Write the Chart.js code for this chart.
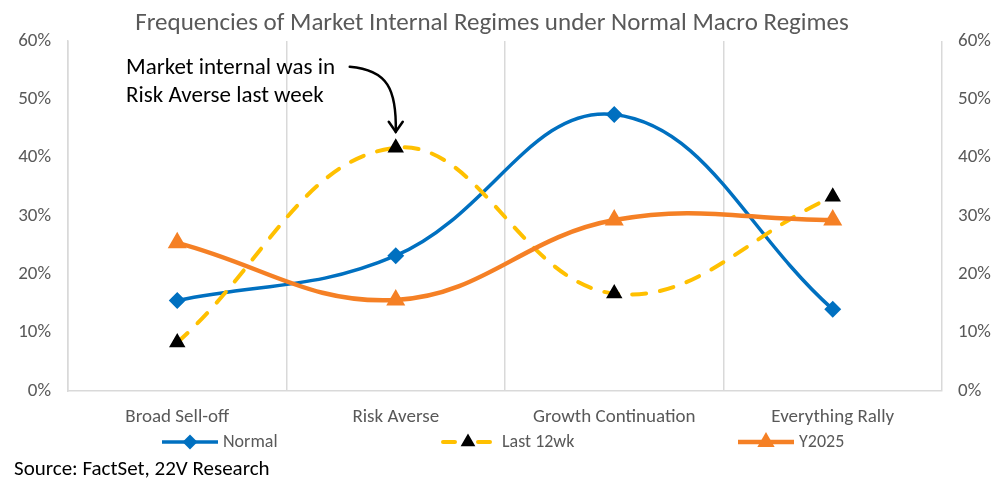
<!DOCTYPE html>
<html lang="en">
<head>
  <meta charset="UTF-8">
  <title>Frequencies of Market Internal Regimes</title>
  <style>
    body {
      margin: 0;
      background: #fff;
    }

    #chartContainer {
      width: 1002px;
      height: 482px;
    }
  </style>
</head>
<body>
  <div id="chartContainer">
    <canvas id="regimeChart"></canvas>
  </div>

  <script src="https://cdn.jsdelivr.net/npm/chart.js"></script>
  <script>
    const categories = ['Broad Sell-off', 'Risk Averse', 'Growth Continuation', 'Everything Rally'];
    const normalValues = [15.5, 23.2, 47.4, 14.0];
    const last12wkValues = [8.3, 41.7, 16.7, 33.3];
    const y2025Values = [25.4, 15.6, 29.3, 29.3];
    const yTicks = [0, 10, 20, 30, 40, 50, 60];

    const FONT = "Carlito, Calibri, 'Open Sans', sans-serif";
    const GREY = '#595959';

    // title, legend, source line and the call-out arrow
    const extras = {
      id: 'extras',
      afterDraw(chart) {
        const ctx = chart.ctx;
        ctx.save();

        ctx.fillStyle = GREY;
        ctx.font = '25px ' + FONT;
        ctx.textAlign = 'center';
        ctx.textBaseline = 'middle';
        ctx.fillText('Frequencies of Market Internal Regimes under Normal Macro Regimes', 492, 24);

        // legend
        const ds = chart.data.datasets;
        const items = [
          { x: 162, ds: ds[0] },
          { x: 440, ds: ds[1] },
          { x: 738, ds: ds[2] }
        ];
        const ly = 442;
        items.forEach(it => {
          ctx.strokeStyle = it.ds.borderColor;
          ctx.lineWidth = it.ds.borderWidth;
          ctx.lineCap = it.ds.borderDash ? 'round' : 'butt';
          ctx.beginPath();
          if (it.ds.borderDash) {
            ctx.moveTo(it.x + 3, ly); ctx.lineTo(it.x + 15, ly);
            ctx.moveTo(it.x + 38, ly); ctx.lineTo(it.x + 50, ly);
          } else {
            ctx.moveTo(it.x, ly); ctx.lineTo(it.x + 56, ly);
          }
          ctx.stroke();
          ctx.fillStyle = it.ds.pointBackgroundColor;
          ctx.strokeStyle = it.ds.pointBorderColor;
          Chart.helpers.drawPoint(ctx, {
            pointStyle: it.ds.pointStyle,
            radius: it.ds.pointRadius - 1,
            borderWidth: 1
          }, it.x + 28, ly);
          ctx.fillStyle = GREY;
          ctx.font = '18px ' + FONT;
          ctx.textAlign = 'left';
          ctx.fillText(it.ds.label, it.x + (it.ds.borderDash ? 62 : 61), ly);
        });

        ctx.fillStyle = '#000';
        ctx.font = '21px ' + FONT;
        ctx.textAlign = 'left';
        ctx.fillText('Source: FactSet, 22V Research', 14, 470);

        // annotation pointing at last week's regime
        ctx.font = '23px ' + FONT;
        ctx.fillText('Market internal was in', 126, 68);
        ctx.fillText('Risk Averse last week', 126, 96);

        const px = chart.scales.x.getPixelForValue(1);
        const py = chart.scales.y.getPixelForValue(last12wkValues[1]);
        ctx.strokeStyle = '#000';
        ctx.lineWidth = 2.5;
        ctx.lineCap = 'round';
        ctx.beginPath();
        ctx.moveTo(px - 46, py - 81);
        ctx.bezierCurveTo(px - 8, py - 78, px + 1, py - 58, px, py - 16);
        ctx.stroke();
        ctx.beginPath();
        ctx.moveTo(px - 7, py - 26);
        ctx.lineTo(px, py - 16);
        ctx.lineTo(px + 7, py - 26);
        ctx.stroke();

        ctx.restore();
      }
    };

    const ctx = document.getElementById('regimeChart').getContext('2d');
    const regimeChart = new Chart(ctx, {
      type: 'line',
      data: {
        labels: categories,
        datasets: [{
          label: 'Normal',
          data: normalValues,
          borderColor: '#0070C0',
          backgroundColor: '#0070C0',
          borderWidth: 3.5,
          pointStyle: 'rectRot',
          pointRadius: 6,
          pointBackgroundColor: '#0070C0',
          pointBorderColor: '#0070C0',
          tension: 0.4,
          order: 3
        }, {
          label: 'Last 12wk',
          data: last12wkValues,
          borderColor: '#FFC000',
          backgroundColor: '#000',
          borderWidth: 4,
          borderDash: [14, 14],
          borderCapStyle: 'round',
          pointStyle: 'triangle',
          pointRadius: 5.5,
          pointBackgroundColor: '#000',
          pointBorderColor: '#000',
          tension: 0.4,
          order: 2
        }, {
          label: 'Y2025',
          data: y2025Values,
          borderColor: '#F58025',
          backgroundColor: '#F58025',
          borderWidth: 4.5,
          pointStyle: 'triangle',
          pointRadius: 6.5,
          pointBackgroundColor: '#F58025',
          pointBorderColor: '#F58025',
          tension: 0.4,
          order: 1
        }]
      },
      options: {
        responsive: true,
        maintainAspectRatio: false,
        animation: false,
        devicePixelRatio: 1,
        layout: { padding: { top: 41, bottom: 46, left: 0, right: 0 } },
        plugins: {
          legend: { display: false },
          tooltip: { enabled: false }
        },
        scales: {
          x: {
            offset: true,
            grid: { offset: true, color: '#D9D9D9', lineWidth: 1.5, drawTicks: false },
            border: { color: '#D9D9D9', width: 1.5 },
            ticks: { color: GREY, font: { family: FONT, size: 19 }, padding: 15, maxRotation: 0 },
            afterFit(scale) { scale.height = 45; }
          },
          y: {
            position: 'left',
            min: 0,
            max: 60,
            afterBuildTicks(scale) { scale.ticks = yTicks.map(v => ({ value: v })); },
            grid: { display: false, drawTicks: false },
            border: { display: true, color: '#D9D9D9', width: 1.5 },
            ticks: { color: GREY, font: { family: FONT, size: 19 }, padding: 17, callback: v => v + '%' },
            afterFit(scale) { scale.width = 68; }
          },
          y2: {
            position: 'right',
            min: 0,
            max: 60,
            afterBuildTicks(scale) { scale.ticks = yTicks.map(v => ({ value: v })); },
            grid: { display: false, drawTicks: false },
            border: { display: false },
            ticks: { color: GREY, font: { family: FONT, size: 19 }, padding: 16, callback: v => v + '%' },
            afterFit(scale) { scale.width = 60; }
          }
        }
      },
      plugins: [extras]
    });
  </script>
</body>
</html>
